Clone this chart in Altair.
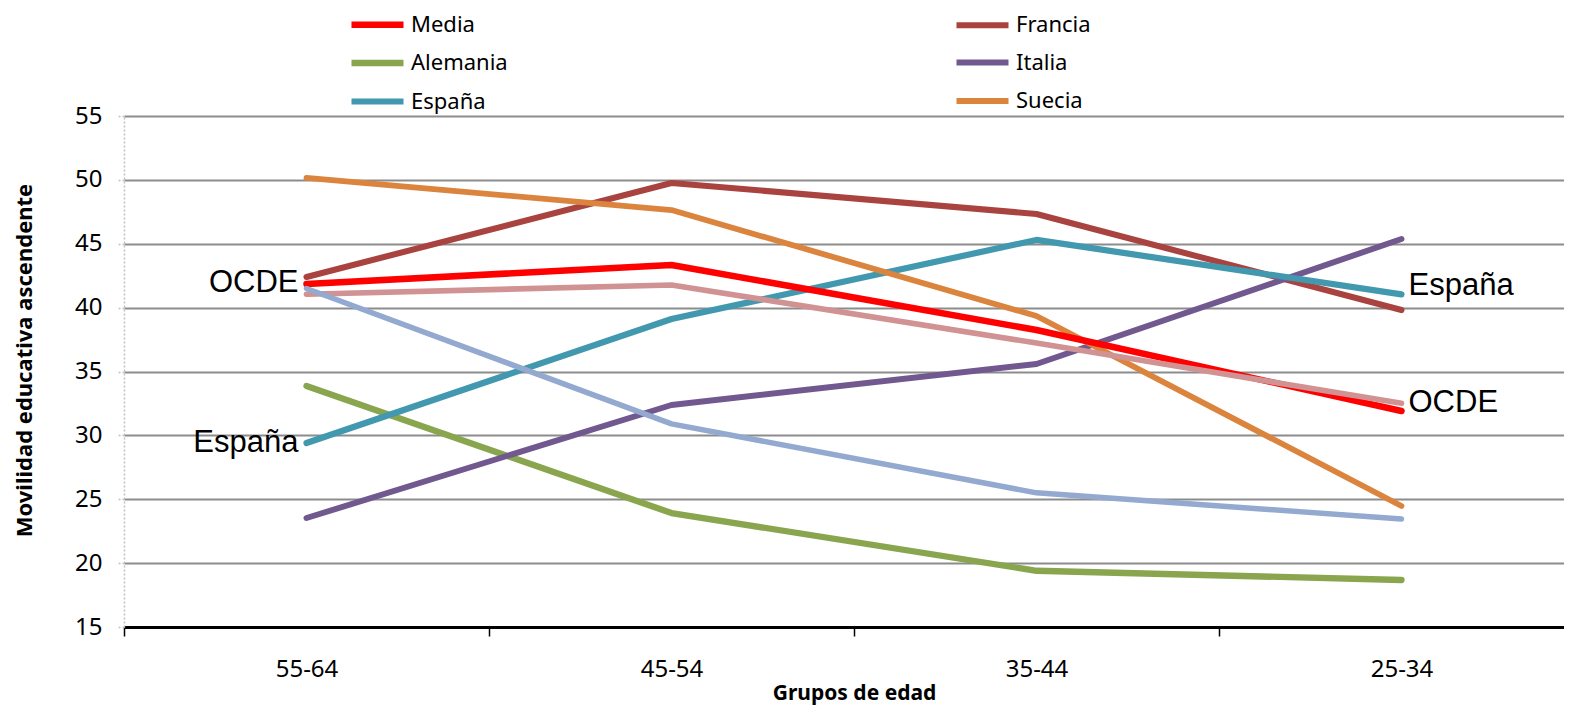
import altair as alt
import pandas as pd

grupos = ["55-64", "45-54", "35-44", "25-34"]
series = ["Media", "Alemania", "España", "Francia", "Italia", "Suecia", "Serie 7", "Serie 8"]
legend_series = ["Media", "Alemania", "España", "Francia", "Italia", "Suecia"]
media = [41.85, 43.34, 38.25, 31.91]
francia = [42.4, 49.76, 47.33, 39.81]
alemania = [33.87, 23.92, 19.4, 18.68]
italia = [23.53, 32.38, 35.59, 45.37]
espana = [29.4, 39.11, 45.3, 41.04]
suecia = [50.15, 47.64, 39.34, 24.47]
serie7 = [41.05, 41.77, 37.23, 32.51]
serie8 = [41.5, 30.9, 25.5, 23.45]
colores = ["#FF0000", "#89A54E", "#4198AF", "#A9433F", "#71588F", "#DB843D", "#D19293", "#93A9CF"]
grosores = [6.5, 5.5, 5.5, 5.5, 5.5, 5.5, 5.5, 5.5]

# annotation labels
notas_izq = ["OCDE", "España"]
notas_izq_val = [41.9, 29.4]
notas_der = ["España", "OCDE"]
notas_der_val = [41.66, 32.5]

valores = {"Media": media, "Francia": francia, "Alemania": alemania, "Italia": italia,
           "España": espana, "Suecia": suecia, "Serie 7": serie7, "Serie 8": serie8}
orden_dibujo = ["Francia", "Alemania", "Italia", "España", "Suecia", "Media", "Serie 7", "Serie 8"]
rows = []
for s in orden_dibujo:
    for g, v in zip(grupos, valores[s]):
        rows.append({"serie": s, "grupo": g, "valor": v})
df = pd.DataFrame(rows)

df_izq = pd.DataFrame({"texto": notas_izq, "grupo": grupos[0], "valor": notas_izq_val})
df_der = pd.DataFrame({"texto": notas_der, "grupo": grupos[-1], "valor": notas_der_val})

FONT = "Noto Sans"

x_enc = alt.X(
    "grupo:N",
    sort=grupos,
    scale=alt.Scale(type="band", domain=grupos, range=[0, 1460], paddingInner=0, paddingOuter=0),
    axis=alt.Axis(
        title="Grupos de edad",
        labelAngle=0,
        labelFont=FONT,
        labelFontSize=24,
        labelColor="black",
        labelPadding=21,
        tickBand="extent",
        tickColor="black",
        tickWidth=1.5,
        tickSize=9,
        domainColor="black",
        domainWidth=3,
        titleFont=FONT,
        titleFontSize=21,
        titleFontWeight="bold",
        titleColor="black",
        titleX=730,
        titleY=66,
        titleBaseline="middle",
        titleAlign="center",
    ),
)
y_enc = alt.Y(
    "valor:Q",
    scale=alt.Scale(domain=[15, 55], nice=False, zero=False),
    axis=alt.Axis(
        title="Movilidad educativa ascendente",
        values=[15, 20, 25, 30, 35, 40, 45, 50, 55],
        labelFont=FONT,
        labelFontSize=24,
        labelColor="black",
        labelPadding=14,
        tickColor="#BFBFBF",
        tickDash=[2, 2],
        tickSize=8,
        tickWidth=1.5,
        domainColor="#BFBFBF",
        domainDash=[2, 2],
        domainWidth=1.5,
        grid=True,
        gridColor="#8C8C8C",
        gridWidth=2,
        titleFont=FONT,
        titleFontSize=22,
        titleFontWeight="bold",
        titleColor="black",
        titleAngle=-90,
        titleX=-100,
        titleY=244,
        titleAlign="center",
        titleBaseline="middle",
    ),
)

lines = alt.Chart(df).mark_line(strokeCap="round", strokeJoin="round").encode(
    x=x_enc,
    y=y_enc,
    color=alt.Color(
        "serie:N",
        scale=alt.Scale(domain=series, range=colores),
        legend=alt.Legend(
            values=legend_series,
            title=None,
            orient="none",
            legendX=224,
            legendY=-108,
            columns=2,
            symbolType="M-1,0H3",
            symbolSize=676,
            symbolStrokeWidth=5,
            symbolOffset=0,
            labelOffset=30,
            labelFont=FONT,
            labelFontSize=22,
            labelColor="black",
            rowPadding=8.5,
            columnPadding=436,
            padding=0,
        ),
    ),
    strokeWidth=alt.StrokeWidth("serie:N", scale=alt.Scale(domain=series, range=grosores), legend=None),
    order=alt.Order("grupo_idx:Q"),
).transform_calculate(
    grupo_idx="indexof(" + str(grupos) + ", datum.grupo)"
)

txt_izq = alt.Chart(df_izq).mark_text(
    align="right", baseline="middle", dx=-8, font="Liberation Sans", fontSize=31, color="black"
).encode(x=alt.X("grupo:N", sort=grupos), y=alt.Y("valor:Q"), text="texto:N")

txt_der = alt.Chart(df_der).mark_text(
    align="left", baseline="middle", dx=7, font="Liberation Sans", fontSize=31, color="black"
).encode(x=alt.X("grupo:N", sort=grupos), y=alt.Y("valor:Q"), text="texto:N")

chart = alt.layer(lines, txt_izq, txt_der).properties(
    width=1440,
    height=511,
    autosize=alt.AutoSizeParams(type="none"),
    padding={"left": 116, "top": 108, "right": 0, "bottom": 80},
).configure_view(strokeWidth=0)

chart.save("out.html", embed_options={"renderer": "svg", "actions": False})
